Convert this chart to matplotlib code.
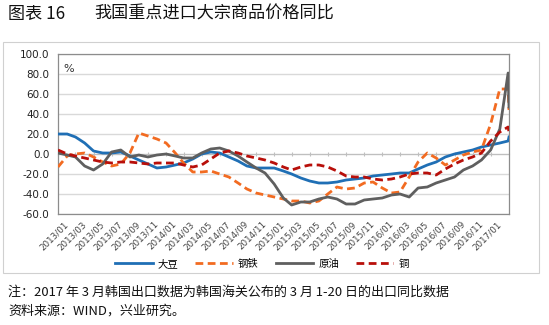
import matplotlib
matplotlib.use('Agg')
import matplotlib.pyplot as plt
import matplotlib.dates as mdates
from matplotlib.patches import Rectangle
import matplotlib.transforms as mtransforms
import pandas as pd

plt.rcParams['font.family'] = ['Noto Sans CJK SC', 'DejaVu Sans']

# ---- data ----
month_dates = list(pd.date_range('2013-01-01', '2017-03-01', freq='MS'))
final_date = pd.Timestamp('2017-03-04')   # last (partial-month) observation
dates = month_dates + [final_date]

series_names = ['大豆', '钢铁', '原油', '铜']

soybean = [20, 20, 17, 11, 3, 1, 1, 2, -2, -6,
           -10, -14, -13, -11, -9, -5, 0, 2, 1, -3,
           -7, -12, -14, -14, -14, -17, -20, -24, -27, -29,
           -29, -28, -26, -25, -24, -22, -21, -20, -19, -19,
           -15, -11, -8, -3, 0, 2, 4, 7, 9, 11,
           13, 17]
steel = [-13, -2, 0, 1, -3, -8, -12, -10, 1, 21,
         18, 15, 11, 1, -9, -18, -18, -17, -20, -23,
         -29, -35, -39, -41, -43, -45, -47, -47, -49, -47,
         -40, -33, -35, -34, -29, -28, -34, -39, -38, -23,
         -8, 1, -4, -11, -6, -1, 2, 4, 30, 65,
         65, 44]
crude = [1, -1, -3, -12, -16, -10, 2, 4, -3, -1,
         -3, -1, 0, -2, -4, -4, 1, 5, 6, 3,
         -2, -8, -14, -19, -30, -44, -51, -48, -48, -45,
         -43, -45, -50, -50, -46, -45, -44, -41, -40, -43,
         -34, -33, -29, -26, -23, -16, -12, -6, 4, 25,
         81, 47]
copper = [4, 0, -2, -4, -6, -8, -9, -8, -8, -9,
          -10, -9, -9, -9, -11, -13, -11, -5, 1, 3,
          1, -2, -4, -6, -9, -13, -16, -13, -11, -11,
          -13, -17, -22, -23, -23, -25, -26, -25, -23, -20,
          -19, -19, -21, -15, -10, -6, -3, 1, 13, 22,
          27, 22]

y_ticks = [100, 80, 60, 40, 20, 0, -20, -40, -60]
tick_dates = pd.date_range('2013-01-01', '2017-01-01', freq='2MS')

colors = ['#1F6FB5', '#F26B21', '#5F5F5F', '#B80F0A']
styles = ['-', '--', '-', '--']

# ---- figure ----
W, H = 549, 325
fig = plt.figure(figsize=(W / 100, H / 100), dpi=100)
fig.patch.set_facecolor('white')

# outer chart border
fig.add_artist(Rectangle((3 / W, 1 - 273 / H), 536 / W, 231 / H, transform=fig.transFigure,
                         fill=False, edgecolor='#D0D0D0', lw=0.8))

ax = fig.add_axes([58 / W, 1 - 214 / H, 451 / W, 160 / H])
ax.set_ylim(min(y_ticks), max(y_ticks))
ax.set_xlim(dates[0], dates[-1])

for yv in y_ticks:
    ax.axhline(yv, color='#D9D9D9', lw=1.0, zorder=0)

for data, name, c, ls in zip([soybean, steel, crude, copper], series_names, colors, styles):
    if ls == '--':
        ax.plot(dates, data, color=c, lw=2.0, ls=(0, (2.8, 1.6)), label=name, zorder=3)
    else:
        ax.plot(dates, data, color=c, lw=2.0, label=name, zorder=3)

for s in ax.spines.values():
    s.set_color('#8C8C8C')
    s.set_linewidth(0.9)

ax.set_yticks(y_ticks)
ax.set_yticklabels([f'{v:.1f}' for v in y_ticks], fontsize=7.5, color='#222222',
                   family=['DejaVu Sans'])
ax.tick_params(axis='y', length=0, pad=6)

ax.set_xticks(tick_dates)
ax.set_xticklabels([d.strftime('%Y/%m') for d in tick_dates], rotation=45, ha='right',
                   rotation_mode='anchor', fontsize=6.3, color='#444444', family=['DejaVu Sans'])
ax.tick_params(axis='x', length=0, pad=4)
offset = mtransforms.ScaledTranslation(6 / 100, 0, fig.dpi_scale_trans)
for lab in ax.get_xticklabels():
    lab.set_transform(lab.get_transform() + offset)

# category axis crossing at zero, with tick marks
ylo, yhi = ax.get_ylim()
zero_frac = (0 - ylo) / (yhi - ylo)
sec = ax.secondary_xaxis(zero_frac)
sec.set_xticks(tick_dates)
sec.tick_params(axis='x', length=3, direction='inout', color='#BFBFBF', labelbottom=False,
                labeltop=False, width=0.8)
sec.spines['bottom'].set_color('#BFBFBF')
sec.spines['top'].set_color('#BFBFBF')

ax.text(0.012, 0.905, '%', transform=ax.transAxes, fontsize=8, color='#333333',
        family=['DejaVu Sans'], va='center')

fig.legend(loc='center', bbox_to_anchor=(262 / W, 1 - 264 / H), ncol=4, frameon=False,
           fontsize=7.5, handlelength=3.6, columnspacing=1.6, handletextpad=0.5)

fig.text(8 / W, 1 - 14 / H, '图表 16', fontsize=12.3, va='center', color='#111111')
fig.text(94 / W, 1 - 14 / H, '我国重点进口大宗商品价格同比', fontsize=12.3, va='center', color='#111111')
fig.text(8 / W, 1 - 292 / H, '注：2017 年 3 月韩国出口数据为韩国海关公布的 3 月 1-20 日的出口同比数据',
         fontsize=9.4, va='center', color='#111111')
fig.text(8 / W, 1 - 311 / H, '资料来源：WIND，兴业研究。', fontsize=9.4, va='center', color='#111111')

fig.savefig('out.png', dpi=100)
